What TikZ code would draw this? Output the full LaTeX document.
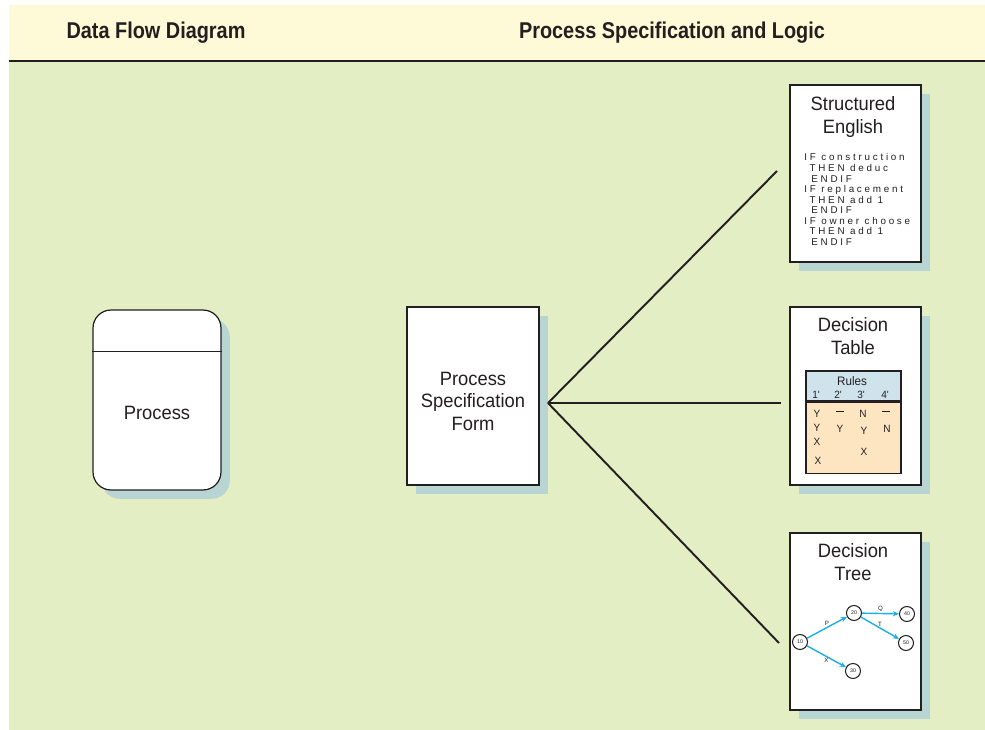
\documentclass[tikz,border=0pt]{standalone}
\usepackage{fontspec}
\setmainfont{Liberation Sans}
\newfontfamily\condfont[FakeStretch=0.95]{Liberation Sans}
\newfontfamily\headfont[FakeStretch=0.87]{Liberation Sans}
\newfontfamily\codefont[LetterSpace=28]{Liberation Sans}
\usetikzlibrary{arrows.meta, shadows, positioning}

\definecolor{headyellow}{RGB}{254,249,214}
\definecolor{panelgreen}{RGB}{228,238,196}
\definecolor{shadowteal}{RGB}{185,213,211}
\definecolor{inkdark}{RGB}{35,31,32}
\definecolor{rulesblue}{RGB}{207,227,236}
\definecolor{rulespeach}{RGB}{252,229,192}
\definecolor{treecyan}{RGB}{28,174,232}

\newcommand{\ruledash}{\rule[1.6pt]{4pt}{0.9pt}}

\tikzset{
  sheet/.style={rectangle, draw=inkdark, line width=0.7pt, fill=white, inner sep=0pt,
    general shadow={fill=shadowteal, shadow xshift=5pt, shadow yshift=-5pt}},
  procbox/.style={sheet, rounded corners=0.36cm},
  headtext/.style={font=\headfont\bfseries\fontsize{13}{15}\selectfont, text=inkdark},
  bodytext/.style={font=\condfont\fontsize{11}{12.8}\selectfont, text=inkdark, align=center},
  sheettitle/.style={font=\condfont\fontsize{11}{13}\selectfont, text=inkdark, align=center},
  codetext/.style={font=\codefont\fontsize{5.6}{6}\selectfont, text=inkdark, align=left, inner sep=0pt},
  rulescell/.style={rectangle, draw=inkdark, line width=0.6pt, inner sep=0pt},
  rulestext/.style={font=\condfont\fontsize{6}{7}\selectfont, text=inkdark, inner sep=0pt},
  treenode/.style={circle, draw=inkdark, line width=0.6pt, fill=white, minimum size=0.3cm,
    inner sep=0pt, font=\fontsize{3}{3}\selectfont, text=inkdark},
  treeedge/.style={draw=treecyan, line width=0.8pt, -{Stealth[length=3.5pt, width=3pt]}},
  edgelabel/.style={font=\fontsize{3.5}{4}\selectfont, text=inkdark, inner sep=0.6pt},
  hubline/.style={draw=inkdark, line width=1.1pt}
}

\begin{document}
\begin{tikzpicture}[x=0.02cm, y=-0.02cm]
  \useasboundingbox (0,0) rectangle (985,730);

  % Background panels
  \fill[headyellow] (9,5) rectangle (985,60);
  \fill[panelgreen] (9,62) rectangle (985,730);
  \draw[inkdark, line width=1.3pt] (9,61) -- (985,61);

  % Column headings
  \node[headtext] (dfdhead)  at (156,33) {Data Flow Diagram};
  \node[headtext] (spechead) at (672,33) {Process Specification and Logic};

  % Process (left) and specification form (middle)
  \node[procbox, minimum width=2.56cm, minimum height=3.6cm] (proc) at (157,400) {};
  \draw[inkdark, line width=0.7pt] ([yshift=-0.84cm]proc.north west) -- ([yshift=-0.84cm]proc.north east);
  \node[bodytext] (proclabel) at (157,413) {Process};

  \node[sheet, minimum width=2.64cm, minimum height=3.56cm] (form) at (473,396) {};
  \node[bodytext] (formlabel) at (473,401) {Process\\Specification\\Form};

  % Logic sheets (right)
  \node[sheet, minimum width=2.62cm, minimum height=3.54cm] (english) at (855.5,173.5) {};
  \node[sheet, minimum width=2.62cm, minimum height=3.56cm] (dtable)  at (855.5,396) {};
  \node[sheet, minimum width=2.62cm, minimum height=3.54cm] (dtree)   at (855.5,621.5) {};

  % Connections
  \coordinate (hub) at (548,403);
  \coordinate (englishend) at (777,171);
  \coordinate (tableend) at (781,403);
  \coordinate (treeend) at (779,643);
  \draw[hubline] (hub) -- (englishend);
  \draw[hubline] (hub) -- (tableend);
  \draw[hubline] (hub) -- (treeend);

  % Structured English
  \node[sheettitle] (englishtitle) at (853,117) {Structured\\English};
  \node[codetext, anchor=north west] (englishcode) at (804,153.5)
    {IF construction\\
     \hspace*{3pt}THEN deduc\\
     \hspace*{4pt}ENDIF\\
     IF replacement\\
     \hspace*{3pt}THEN add 1\\
     \hspace*{4pt}ENDIF\\
     IF owner choose\\
     \hspace*{3pt}THEN add 1\\
     \hspace*{4pt}ENDIF};

  % Decision Table
  \node[sheettitle] (tabletitle) at (853,336) {Decision\\Table};
  \node[rulescell, fill=rulesblue, minimum width=1.9cm, minimum height=0.6cm] (rulehead) at (853.5,386) {};
  \node[rulescell, fill=rulespeach, minimum width=1.9cm, minimum height=1.42cm, below=0pt of rulehead] (rulebody) {};
  \node[rulestext, font=\condfont\fontsize{7}{8}\selectfont] (rulestitle) at (852,381) {Rules};
  \node[rulestext] (rule1) at (816,395) {1'};
  \node[rulestext] (rule2) at (838,395) {2'};
  \node[rulestext] (rule3) at (861,395) {3'};
  \node[rulestext] (rule4) at (885,395) {4'};
  \node[rulestext] (c1a) at (817,414) {Y};
  \node[rulestext] (c1b) at (817,428) {Y};
  \node[rulestext] (c1c) at (817,442) {X};
  \node[rulestext] (c1d) at (818,461) {X};
  \node[rulestext] (c2a) at (840,413) {\ruledash};
  \node[rulestext] (c2b) at (840,429) {Y};
  \node[rulestext] (c3a) at (863,414) {N};
  \node[rulestext] (c3b) at (864,431) {Y};
  \node[rulestext] (c3c) at (864,452) {X};
  \node[rulestext] (c4a) at (886,413) {\ruledash};
  \node[rulestext] (c4b) at (887,429) {N};

  % Decision Tree
  \node[sheettitle] (treetitle) at (853,562) {Decision\\Tree};
  \node[treenode] (t10) at (800,642) {10};
  \node[treenode] (t20) at (854,613) {20};
  \node[treenode] (t30) at (853,671) {30};
  \node[treenode] (t40) at (907,614) {40};
  \node[treenode] (t50) at (906,643) {50};
  \draw[treeedge] (t10) -- node[edgelabel, midway, above] (lp) {P} (t20);
  \draw[treeedge] (t10) -- node[edgelabel, midway, below] (lx) {X} (t30);
  \draw[treeedge] (t20) -- node[edgelabel, midway, above] (lq) {Q} (t40);
  \draw[treeedge] (t20) -- node[edgelabel, midway, above] (lt) {T} (t50);
\end{tikzpicture}
\end{document}
